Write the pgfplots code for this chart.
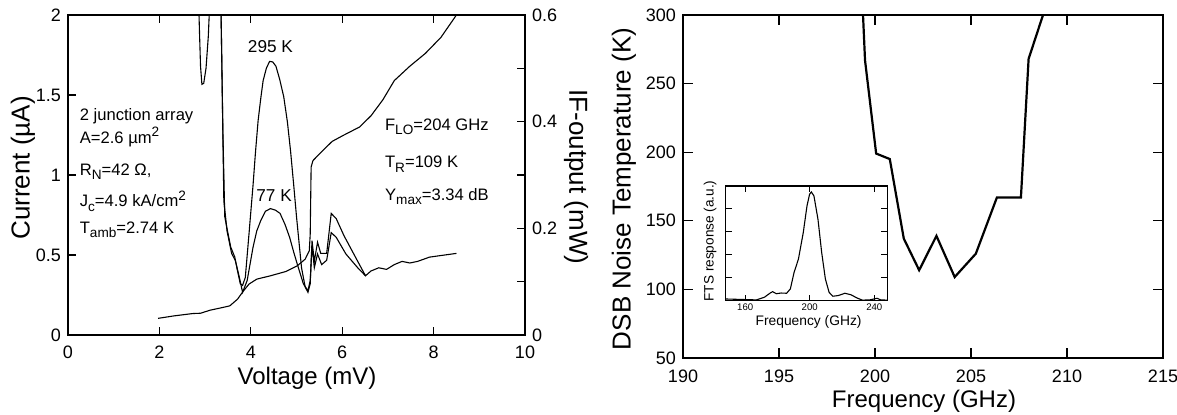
\documentclass[border=0pt]{standalone}
\usepackage{pgfplots}
\pgfplotsset{compat=1.18}
\usepackage{fontspec}
\setmainfont{Liberation Sans}
\newcommand\sub[1]{\raisebox{-0.5ex}{\fontsize{6.8}{7}\selectfont #1}}
\newcommand\sups[1]{\raisebox{0.75ex}{\fontsize{6.8}{7}\selectfont #1}}

\pgfplotsset{
  every axis/.append style={
    scale only axis, anchor=south west,
    tick align=inside,
    /pgf/number format/assume math mode=true,
    ticklabel style={font=\fontsize{9}{10}\selectfont},
    tick style={black, line width=0.6pt},
    axis line style={line width=0.7pt},
  }
}

\begin{document}
\begin{tikzpicture}
\useasboundingbox (0,0) rectangle (588.5pt,207.5pt);

% ---------------- left panel: IV curve (current axis) ----------------
\begin{axis}[at={(34pt,40pt)}, width=228.5pt, height=160pt,
  xmin=0, xmax=10, ymin=0, ymax=2,
  xtick={0,2,...,10}, ytick={0,0.5,...,2}, ytick pos=left,
  xticklabel style={yshift=-2pt},
  major tick length=4pt]
\addplot[black, line width=0.55pt] coordinates {
  (1.97,0.104) (2.31,0.119) (2.73,0.134) (2.90,0.136) (3.11,0.155)
  (3.37,0.171) (3.54,0.182) (3.71,0.224) (3.83,0.272) (3.96,0.318)
  (4.13,0.349) (4.43,0.370) (4.77,0.397) (5.02,0.433) (5.19,0.474)
  (5.28,0.527) (5.30,0.63) (5.32,1.05) (5.36,1.09) (5.53,1.14)
  (5.78,1.21) (6.04,1.25) (6.38,1.30) (6.63,1.37) (6.89,1.47)
  (7.14,1.59) (7.48,1.68) (7.82,1.76) (8.16,1.86) (8.50,2.00)
};
\node[font=\fontsize{8.6}{10}\selectfont] at (axis cs:4.43,1.80) {295 K};
\node[font=\fontsize{8.6}{10}\selectfont] at (axis cs:4.51,0.87) {77 K};
\begin{scope}[every node/.style={anchor=base west, inner sep=0pt,
    font=\fontsize{8.3}{10}\selectfont}]
\node at (axis cs:0.25,1.343) {2 junction array};
\node at (axis cs:0.25,1.197) {A=2.6 µm\sups{2}};
\node at (axis cs:0.25,0.999) {R\sub{N}=42 Ω,};
\node at (axis cs:0.25,0.800) {J\sub{c}=4.9 kA/cm\sups{2}};
\node at (axis cs:0.25,0.637) {T\sub{amb}=2.74 K};
\node at (axis cs:6.93,1.280) {F\sub{LO}=204 GHz};
\node at (axis cs:6.93,1.045) {T\sub{R}=109 K};
\node at (axis cs:6.93,0.842) {Y\sub{max}=3.34 dB};
\end{scope}
\end{axis}

% ---------------- left panel: IF output (right axis) ----------------
\begin{axis}[at={(34pt,40pt)}, width=228.5pt, height=160pt,
  xmin=0, xmax=10, ymin=0, ymax=0.6,
  axis x line=none, axis y line*=right,
  ytick={0,0.2,0.4,0.6}, minor ytick={0.1,0.3,0.5},
  major tick length=4pt, minor tick length=4pt,
  minor tick style={black, line width=0.6pt}]
% narrow dip below 3.1 mV
\addplot[black, line width=0.55pt] coordinates {
  (2.86,0.62) (2.88,0.56) (2.90,0.504) (2.93,0.470) (2.97,0.472)
  (3.02,0.50) (3.07,0.56) (3.10,0.62)
};
% 295 K load
\addplot[black, line width=0.55pt] coordinates {
  (3.34,0.62) (3.35,0.60) (3.39,0.378) (3.43,0.222) (3.49,0.195)
  (3.56,0.165) (3.65,0.146) (3.71,0.120) (3.77,0.096) (3.82,0.093)
  (3.88,0.108) (3.96,0.189) (4.05,0.282) (4.10,0.340) (4.16,0.402)
  (4.22,0.445) (4.27,0.477) (4.34,0.500) (4.41,0.513) (4.48,0.512)
  (4.55,0.504) (4.63,0.480) (4.72,0.447) (4.80,0.400) (4.87,0.345)
  (4.94,0.280) (5.00,0.222) (5.11,0.126) (5.19,0.090) (5.25,0.080)
  (5.30,0.096) (5.34,0.177) (5.39,0.138) (5.46,0.174) (5.53,0.153)
  (5.66,0.153) (5.76,0.228) (5.87,0.218) (6.04,0.186) (6.29,0.146)
  (6.51,0.111) (6.63,0.120) (6.80,0.126) (6.97,0.123) (7.14,0.132)
  (7.31,0.138) (7.48,0.135) (7.65,0.138) (7.91,0.146) (8.16,0.149)
  (8.50,0.153)
};
% 77 K load
\addplot[black, line width=0.55pt] coordinates {
  (3.34,0.62) (3.35,0.60) (3.41,0.252) (3.48,0.195) (3.58,0.153)
  (3.66,0.140) (3.75,0.108) (3.82,0.080) (3.92,0.102) (4.05,0.165)
  (4.13,0.195) (4.22,0.215) (4.32,0.232) (4.43,0.237) (4.54,0.234)
  (4.64,0.228) (4.75,0.207) (4.85,0.183) (4.94,0.155) (5.02,0.132)
  (5.15,0.096) (5.25,0.083) (5.30,0.102) (5.34,0.168) (5.39,0.126)
  (5.46,0.152) (5.55,0.132) (5.66,0.140) (5.76,0.192) (5.87,0.183)
  (6.08,0.152) (6.34,0.126) (6.51,0.111)
};
\end{axis}

% axis titles, left panel
\node[rotate=90, font=\fontsize{13}{14}\selectfont] at (11.5pt,123.5pt) {Current (µA)};
\node[rotate=-90, font=\fontsize{13}{14}\selectfont] at (288pt,119pt) {IF-output (mW)};
\node[font=\fontsize{12}{14}\selectfont] at (153.5pt,18.5pt) {Voltage (mV)};

% ---------------- right panel: DSB noise temperature ----------------
\begin{axis}[at={(341.5pt,28.5pt)}, width=240pt, height=171.5pt,
  xmin=190, xmax=215, ymin=50, ymax=300,
  xtick={190,195,...,215}, ytick={50,100,...,300},
  xticklabel style={yshift=-2.5pt},
  major tick length=5pt]
\addplot[black, line width=1.1pt] coordinates {
  (199.36,305) (199.48,267) (200.06,199) (200.77,195) (201.50,137)
  (202.30,114) (203.20,139) (204.15,109) (205.25,126) (206.35,167)
  (207.60,167) (208.00,268) (208.75,300) (208.87,305)
};
\end{axis}
\node[rotate=90, font=\fontsize{13}{14}\selectfont] at (312pt,113pt) {DSB Noise Temperature (K)};
\node[font=\fontsize{12}{14}\selectfont] at (462pt,6.8pt) {Frequency (GHz)};

% ---------------- inset: FTS response ----------------
\begin{axis}[at={(362.9pt,57.2pt)}, width=80.7pt, height=57.3pt,
  xmin=148, xmax=248, ymin=0, ymax=5,
  xtick={160,200,240}, ytick={1,2,3,4}, yticklabels={},
  major tick length=3pt,
  ticklabel style={font=\fontsize{4.8}{5}\selectfont},
  xticklabel style={inner sep=1.5pt},
  tick style={black, line width=0.5pt},
  axis line style={line width=0.6pt}]
\addplot[black, line width=0.55pt] coordinates {
  (148,0.07) (167,0.03) (172,0.15) (175.5,0.33) (177,0.39) (179.3,0.30)
  (182.3,0.33) (185.7,0.32) (188,0.51) (190.3,1.23) (193,1.81) (196,2.97)
  (198.3,4.13) (199.9,4.64) (201,4.74) (202.6,4.57) (205.1,3.55)
  (207.4,2.10) (209.7,0.94) (212,0.36) (214.3,0.19) (217.7,0.22)
  (221.8,0.32) (225.7,0.25) (229.1,0.12) (232.6,0.02) (237.2,0.03)
  (241.7,0.10) (244,0.03) (248,0.02)
};
\end{axis}
\node[rotate=90, font=\fontsize{6.8}{8}\selectfont] at (355pt,87pt) {FTS response (a.u.)};
\node[font=\fontsize{6.9}{8}\selectfont] at (404.3pt,46.4pt) {Frequency (GHz)};

\end{tikzpicture}
\end{document}
